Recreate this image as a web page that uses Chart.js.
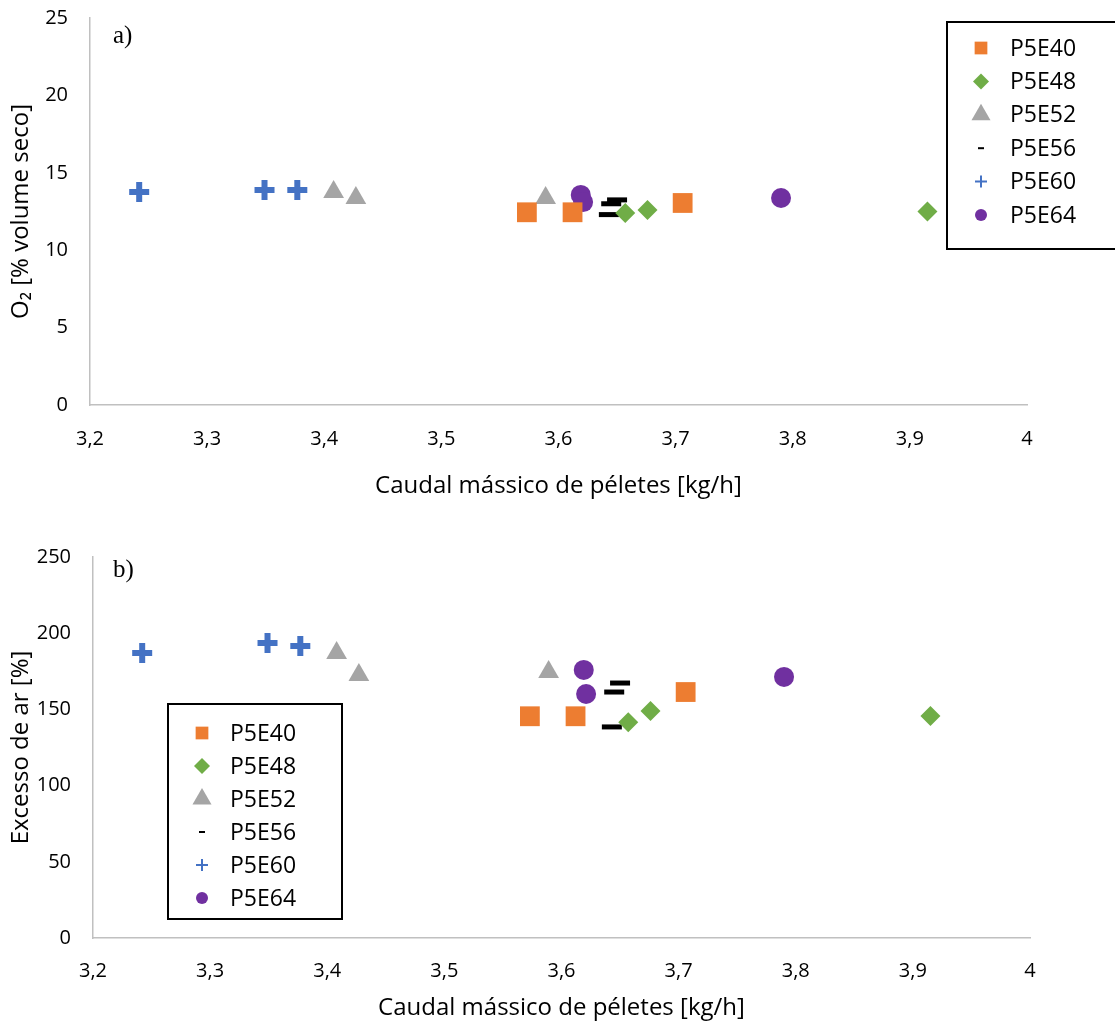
<!DOCTYPE html>
<html>
<head>
<meta charset="utf-8">
<script src="https://cdn.jsdelivr.net/npm/chart.js@4.4.1/dist/chart.umd.min.js"></script>
<style>
  body { margin: 0; background: #fff; }
  .panel { position: absolute; left: 0; width: 1115px; }
</style>
</head>
<body>
<div class="panel" style="top:0;height:510px"><canvas id="chartA" width="1115" height="510"></canvas></div>
<div class="panel" style="top:540px;height:485px"><canvas id="chartB" width="1115" height="485"></canvas></div>
<script>
// data
const seriesNames = ['P5E40', 'P5E48', 'P5E52', 'P5E56', 'P5E60', 'P5E64'];

const xP5E40 = [3.573, 3.612, 3.706];
const xP5E48 = [3.657, 3.676, 3.915];
const xP5E52 = [3.408, 3.427, 3.589];
const xP5E56 = [3.650, 3.645, 3.643];
const xP5E60 = [3.242, 3.349, 3.377];
const xP5E64 = [3.619, 3.621, 3.790];

const o2P5E40 = [12.45, 12.45, 13.05];
const o2P5E48 = [12.4, 12.6, 12.5];
const o2P5E52 = [13.76, 13.37, 13.37];
const o2P5E56 = [13.25, 13.0, 12.3];
const o2P5E60 = [13.76, 13.89, 13.89];
const o2P5E64 = [13.57, 13.11, 13.37];

const exP5E40 = [145.5, 145.5, 161.4];
const exP5E48 = [141.5, 149.0, 145.7];
const exP5E52 = [187.0, 172.6, 174.5];
const exP5E56 = [167.3, 161.4, 138.5];
const exP5E60 = [187.0, 193.6, 191.6];
const exP5E64 = [175.9, 160.1, 171.3];

const xValues = [xP5E40, xP5E48, xP5E52, xP5E56, xP5E60, xP5E64];
const o2Values = [o2P5E40, o2P5E48, o2P5E52, o2P5E56, o2P5E60, o2P5E64];
const exValues = [exP5E40, exP5E48, exP5E52, exP5E56, exP5E60, exP5E64];

const xMin = 3.2, xMax = 4, xStep = 0.1;
const o2Max = 25, o2Step = 5;
const exMax = 250, exStep = 50;

const xTitle = 'Caudal mássico de péletes [kg/h]';
const o2Title = 'O₂ [% volume seco]';
const exTitle = 'Excesso de ar [%]';

// marker look, per series
const marks = [
  { color: '#ED7D31', style: 'rect',     r: 14, bw: 0, lr: 9,  lbw: 0 },
  { color: '#70AD47', style: 'rectRot',  r: 10, bw: 0, lr: 8,  lbw: 0 },
  { color: '#A5A5A5', style: 'triangle', r: 12, bw: 0, lr: 11, lbw: 0 },
  { color: '#000000', style: 'line',     r: 10, bw: 5, lr: 3,  lbw: 2 },
  { color: '#4472C4', style: 'cross',    r: 10, bw: 6, lr: 6,  lbw: 2 },
  { color: '#7030A0', style: 'circle',   r: 10, bw: 0, lr: 6,  lbw: 0 }
];

const FONT = '"Open Sans", "Liberation Sans", sans-serif';

function makeDatasets(yValues) {
  return seriesNames.map((name, i) => ({
    label: name,
    data: xValues[i].map((x, j) => ({ x: x, y: yValues[i][j] })),
    pointStyle: marks[i].style,
    pointRadius: marks[i].r,
    pointHoverRadius: marks[i].r,
    pointBorderWidth: marks[i].bw,
    pointBackgroundColor: marks[i].color,
    pointBorderColor: marks[i].color,
    backgroundColor: marks[i].color,
    borderColor: marks[i].color,
    showLine: false
  }));
}

function fmt(v) {
  return String(Number(v.toFixed(1))).replace('.', ',');
}

// boxed legend + panel letter
const boxLegend = {
  id: 'boxLegend',
  afterDraw(chart, args, opts) {
    const ctx = chart.ctx;
    ctx.save();
    ctx.strokeStyle = '#000';
    ctx.lineWidth = 2;
    ctx.strokeRect(opts.x, opts.y, opts.w, opts.h);
    ctx.textBaseline = 'middle';
    ctx.textAlign = 'left';
    chart.data.datasets.forEach((ds, i) => {
      const cy = opts.first + i * opts.gap;
      ctx.fillStyle = marks[i].color;
      ctx.strokeStyle = marks[i].color;
      ctx.lineWidth = marks[i].lbw;
      Chart.helpers.drawPoint(ctx, {
        pointStyle: marks[i].style, radius: marks[i].lr, borderWidth: marks[i].lbw, rotation: 0
      }, opts.mx, cy);
      ctx.fillStyle = '#000';
      ctx.font = '23px ' + FONT;
      ctx.fillText(ds.label, opts.tx, cy + 1);
    });
    ctx.font = '25px "Liberation Serif", serif';
    ctx.fillText(opts.letter, opts.lx, opts.ly);
    ctx.restore();
  }
};

function makeChart(id, yValues, yMax, yStep, yTitle, geo) {
  const ctx = document.getElementById(id).getContext('2d');
  return new Chart(ctx, {
    type: 'scatter',
    data: { datasets: makeDatasets(yValues) },
    plugins: [boxLegend],
    options: {
      responsive: false,
      animation: false,
      layout: { padding: { left: 0, top: geo.top, right: geo.right, bottom: 0 } },
      plugins: {
        legend: { display: false },
        tooltip: { enabled: false },
        boxLegend: geo.legend
      },
      scales: {
        x: {
          type: 'linear',
          min: xMin, max: xMax,
          grid: { display: false, drawTicks: false },
          border: { display: true, color: '#C0C0C0', width: 1.5 },
          ticks: {
            stepSize: xStep, autoSkip: false, maxRotation: 0, padding: geo.xPad,
            color: '#000', font: { family: FONT, size: 20 },
            callback: v => fmt(v)
          },
          title: {
            display: true, text: xTitle, color: '#000',
            font: { family: FONT, size: 24 },
            padding: { top: 0, bottom: geo.xTitlePad }
          },
          afterFit: s => { s.height = geo.xHeight; s.paddingLeft = 0; s.paddingRight = 0; }
        },
        y: {
          min: 0, max: yMax,
          grid: { display: false, drawTicks: false },
          border: { display: true, color: '#C0C0C0', width: 1.5 },
          ticks: {
            stepSize: yStep, padding: 22,
            color: '#000', font: { family: FONT, size: 20 }
          },
          title: {
            display: true, text: yTitle, color: '#000',
            font: { family: FONT, size: 24 },
            padding: { top: 7, bottom: 0 }
          },
          afterFit: s => { s.width = geo.yWidth; s.paddingTop = 0; s.paddingBottom = 0; }
        }
      }
    }
  });
}

makeChart('chartA', o2Values, o2Max, o2Step, o2Title, {
  top: 18, right: 88, xHeight: 105, yWidth: 90, xPad: 22, xTitlePad: 9,
  legend: { x: 947, y: 22, w: 200, h: 227, mx: 981, tx: 1010, first: 48, gap: 33.4,
            letter: 'a)', lx: 113, ly: 36 }
});

makeChart('chartB', exValues, exMax, exStep, exTitle, {
  top: 17, right: 85, xHeight: 87, yWidth: 93, xPad: 21, xTitlePad: 2,
  legend: { x: 168, y: 164, w: 174, h: 215, mx: 202, tx: 230, first: 193, gap: 33,
            letter: 'b)', lx: 113, ly: 30 }
});
</script>
</body>
</html>
